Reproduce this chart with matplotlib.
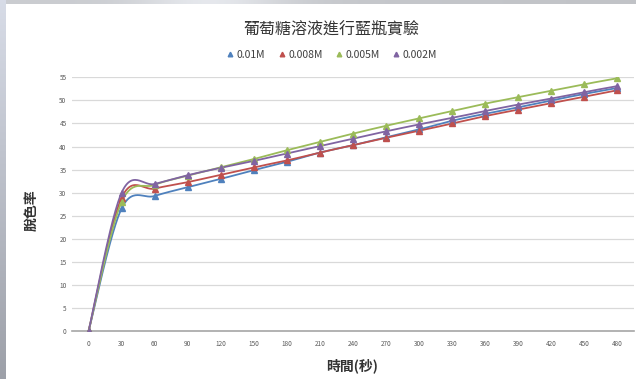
import numpy as np
import matplotlib
matplotlib.use("Agg")
import matplotlib.pyplot as plt
from matplotlib.lines import Line2D

plt.rcParams['font.family'] = ['Noto Sans CJK TC', 'DejaVu Sans']

# Data
times = [0, 30, 60, 90, 120, 150, 180, 210, 240, 270, 300, 330, 360, 390, 420, 450, 480]
series_names = ["0.01M", "0.008M", "0.005M", "0.002M"]
rate_001 = [0, 26.6, 29.3, 31.2, 33.0, 34.9, 36.7, 38.7, 40.3, 42.0, 43.7, 45.6, 47.1, 48.5, 50.0, 51.4, 52.7]
rate_0008 = [0, 28.9, 30.9, 32.3, 33.9, 35.5, 37.0, 38.7, 40.3, 41.9, 43.4, 45.0, 46.6, 48.0, 49.4, 50.8, 52.2]
rate_0005 = [0, 28.0, 31.7, 33.7, 35.5, 37.3, 39.2, 41.0, 42.8, 44.5, 46.1, 47.7, 49.3, 50.7, 52.1, 53.5, 54.8]
rate_0002 = [0, 30.0, 31.9, 33.8, 35.4, 36.9, 38.5, 40.1, 41.7, 43.3, 44.8, 46.2, 47.7, 49.1, 50.4, 51.8, 53.1]
series_values = [rate_001, rate_0008, rate_0005, rate_0002]
colors = ["#4F81BD", "#C0504D", "#9BBB59", "#8064A2"]
y_ticks = list(range(0, 56, 5))

title = "葡萄糖溶液進行藍瓶實驗"
x_label = "時間(秒)"
y_label = "脫色率"


def smooth(xs, ys, n=30):
    """Cubic Bezier smoothing through every point (Catmull-Rom style)."""
    pts = np.column_stack([xs, ys]).astype(float)
    out = []
    m = len(pts)
    for i in range(m - 1):
        p0 = pts[max(i - 1, 0)]
        p1 = pts[i]
        p2 = pts[i + 1]
        p3 = pts[min(i + 2, m - 1)]
        b1 = p1 + (p2 - p0) / 6.0
        b2 = p2 - (p3 - p1) / 6.0
        t = np.linspace(0, 1, n)[:, None]
        seg = ((1 - t) ** 3) * p1 + 3 * ((1 - t) ** 2) * t * b1 + 3 * (1 - t) * t ** 2 * b2 + t ** 3 * p2
        out.append(seg if i == 0 else seg[1:])
    seg = np.vstack(out)
    return seg[:, 0], seg[:, 1]


fig = plt.figure(figsize=(6.36, 3.79), dpi=100)
fig.patch.set_facecolor("white")

# Slide frame: grey strips along the top and left edges
bg = fig.add_axes([0, 0, 1, 1], zorder=-10)
bg.set_xlim(0, 636)
bg.set_ylim(379, 0)
bg.axis("off")
top_grad = np.linspace(0, 1, 256)[None, :]
top_vals = 0.82 + 0.12 * np.exp(-((top_grad - 0.33) / 0.12) ** 2) - 0.04 * top_grad
bg.imshow(np.dstack([top_vals * 0.97, top_vals * 0.98, top_vals * 1.0]).clip(0, 1),
          extent=[0, 636, 4, 0], aspect="auto")
left_grad = np.linspace(0, 1, 256)[:, None]
left_vals = 0.88 - 0.24 * left_grad
bg.imshow(np.dstack([left_vals * 0.96, left_vals * 0.98, left_vals * 1.03]).clip(0, 1),
          extent=[0, 6, 379, 0], aspect="auto")

ax = fig.add_axes([72 / 636, (379 - 331.3) / 379, (634 - 72) / 636, (331.3 - 77.3) / 379])
ax.set_xlim(-15, 495)
ax.set_ylim(0, 55)

for vals, c in zip(series_values, colors):
    sx, sy = smooth(times, vals)
    ax.plot(sx, sy, color=c, lw=1.3, solid_capstyle="round", zorder=3)
    ax.plot(times, vals, ls="none", marker="^", ms=4.2, color=c, zorder=4)

ax.set_yticks(y_ticks)
ax.set_xticks(times)
ax.set_xticklabels([str(t) for t in times])
ax.grid(axis="y", color="#d9d9d9", lw=0.9)
ax.set_axisbelow(True)
for s in ["left", "right", "top"]:
    ax.spines[s].set_visible(False)
ax.spines["bottom"].set_color("#a6a6a6")
ax.spines["bottom"].set_linewidth(1.2)
ax.tick_params(axis="both", length=0, labelsize=4.6, labelcolor="#595959")
ax.tick_params(axis="x", pad=6)
ax.tick_params(axis="y", pad=4)

fig.text(331 / 636, 1 - 30 / 379, title, ha="center", va="center",
         fontsize=11.5, fontweight="medium", color="#333333")

handles = [Line2D([], [], ls="none", marker="^", ms=3.3, color=c) for c in colors]
fig.legend(handles, series_names, loc="center", bbox_to_anchor=(331 / 636, 1 - 55 / 379),
           ncol=4, frameon=False, handletextpad=0.1, columnspacing=1.1,
           handlelength=1.0, labelcolor="#404040", prop={"weight": "medium", "size": 7.5})

fig.text(352 / 636, 1 - 366 / 379, x_label, ha="center", va="center",
         fontsize=10, fontweight="bold", color="#333333")
fig.text(32 / 636, 1 - 210 / 379, y_label, ha="center", va="center", rotation=90,
         fontsize=10, fontweight="bold", color="#333333")

fig.savefig("out.png", dpi=100)
